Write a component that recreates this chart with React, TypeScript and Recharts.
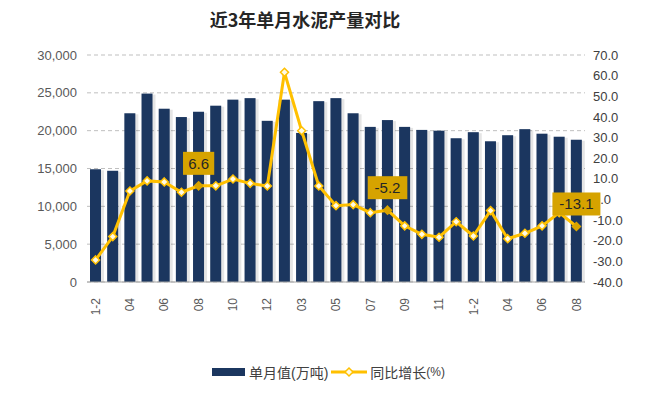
import React from "react";
import {
  ComposedChart,
  Bar,
  Line,
  XAxis,
  YAxis,
  CartesianGrid,
} from "recharts";

// months, three years back to back
const months = [
  "1-2", "03", "04", "05", "06", "07", "08", "09", "10", "11", "12",
  "1-2", "03", "04", "05", "06", "07", "08", "09", "10", "11", "12",
  "1-2", "03", "04", "05", "06", "07", "08",
];

// 单月值 (万吨)
const output = [
  14900, 14700, 22300, 24900, 22900, 21800, 22500, 23300, 24100, 24300, 21300,
  24100, 19700, 23900, 24300, 22300, 20500, 21400, 20500, 20100, 20000, 19000,
  19800, 18600, 19400, 20200, 19600, 19200, 18800,
];

// 同比增长 (%)
const growth = [
  -29.3, -18.0, 4.1, 9.0, 8.5, 3.5, 6.6, 6.6, 9.9, 7.8, 6.5,
  61.6, 33.3, 6.5, -3.0, -2.5, -6.4, -5.2, -12.8, -16.9, -18.3, -10.8,
  -17.7, -5.4, -19.0, -16.4, -12.8, -6.4, -13.1,
];

const labeledPoints = [6, 17, 28];

const leftTicks = [0, 5000, 10000, 15000, 20000, 25000, 30000];
const rightTicks = [-40, -30, -20, -10, 0, 10, 20, 30, 40, 50, 60, 70];

const data = months.map((m, i) => ({
  month: m,
  output: output[i],
  growth: growth[i],
}));

const NAVY = "#1B365F";
const GOLD = "#FFC000";
const FONT = "'Liberation Sans', 'Noto Sans CJK SC', sans-serif";

const ShadowBar = (props: any) => {
  const { x, y, width, height } = props;
  if (!height || height <= 0) return null;
  return (
    <g>
      <rect x={x + 2} y={y + 1} width={width + 1} height={height - 1} fill="#000" opacity={0.1} />
      <rect x={x} y={y} width={width} height={height} fill={NAVY} />
    </g>
  );
};

const renderDot = (props: any) => {
  const { cx, cy, index } = props;
  const hit = labeledPoints.includes(index);
  const r = 4;
  const pts = `${cx},${cy - r} ${cx + r},${cy} ${cx},${cy + r} ${cx - r},${cy}`;
  return (
    <polygon
      key={`d-${index}`}
      points={pts}
      fill={hit ? "#D9A400" : "#FFFBE6"}
      stroke={hit ? "#D9A400" : GOLD}
      strokeWidth={1.5}
    />
  );
};

const renderLabel = (props: any) => {
  const { x, y, value, index } = props;
  if (!labeledPoints.includes(index)) return null;
  const text = Number(value).toFixed(1);
  const w = text.length * 8.4 + 6;
  const h = 23;
  return (
    <g key={`l-${index}`}>
      <rect x={x - w / 2} y={y - 11 - h} width={w} height={h} fill="#D6A300" />
      <text
        x={x}
        y={y - 11 - h / 2}
        dy="0.36em"
        textAnchor="middle"
        fontSize={15}
        fontFamily={FONT}
        fill="#262626"
      >
        {text}
      </text>
    </g>
  );
};

const MonthTick = (props: any) => {
  const { x, y, payload } = props;
  const ty = y + 8;
  return (
    <text
      x={x}
      y={ty}
      dy="0.35em"
      textAnchor="end"
      transform={`rotate(-90, ${x}, ${ty})`}
      fontSize={12}
      fontFamily={FONT}
      fill="#595959"
    >
      {payload.value}
    </text>
  );
};

export default function App() {
  return (
    <div style={{ position: "absolute", left: 0, top: 0, width: 661, height: 393, background: "#fff" }}>
      <div
        style={{
          position: "absolute",
          left: 0,
          top: 6,
          width: 610,
          textAlign: "center",
          fontFamily: "'Noto Sans CJK SC', sans-serif",
          fontWeight: 700,
          fontSize: 18,
          color: "#262626",
        }}
      >
        近3年单月水泥产量对比
      </div>

      <ComposedChart
        width={661}
        height={393}
        data={data}
        margin={{ top: 55, right: 0, bottom: 0, left: 0 }}
        barCategoryGap={6}
      >
        <CartesianGrid
          yAxisId="left"
          vertical={false}
          stroke="#BFBFBF"
          strokeDasharray="4 3"
        />
        <XAxis
          dataKey="month"
          interval={1}
          height={111}
          tick={<MonthTick />}
          tickLine={false}
          axisLine={{ stroke: "#A6A6A6", strokeWidth: 1 }}
        />
        <YAxis
          yAxisId="left"
          width={87}
          domain={[0, 30000]}
          ticks={leftTicks}
          interval={0}
          tickFormatter={(v: number) => v.toLocaleString("en-US")}
          tick={{ fill: "#595959", fontSize: 13, fontFamily: FONT }}
          tickLine={false}
          axisLine={false}
          tickMargin={4}
        />
        <YAxis
          yAxisId="right"
          orientation="right"
          width={76}
          domain={[-40, 70]}
          ticks={rightTicks}
          interval={0}
          tickFormatter={(v: number) => v.toFixed(1)}
          tick={{ fill: "#404040", fontSize: 13, fontFamily: FONT }}
          tickLine={false}
          axisLine={false}
        />
        <Bar
          yAxisId="left"
          dataKey="output"
          barSize={11}
          fill={NAVY}
          shape={<ShadowBar />}
          isAnimationActive={false}
        />
        <Line
          yAxisId="right"
          dataKey="growth"
          type="linear"
          stroke={GOLD}
          strokeWidth={3}
          dot={renderDot}
          activeDot={false}
          label={renderLabel}
          isAnimationActive={false}
        />
      </ComposedChart>

      <div
        style={{
          position: "absolute",
          left: 212,
          top: 362,
          display: "flex",
          alignItems: "center",
          fontFamily: FONT,
          fontSize: 14,
          color: "#404040",
          whiteSpace: "nowrap",
        }}
      >
        <span style={{ display: "inline-block", width: 33, height: 8, background: NAVY, marginRight: 4 }} />
        <span>单月值(万吨)</span>
        <svg width={36} height={12} style={{ marginLeft: 3, marginRight: 3 }}>
          <line x1={0} y1={6} x2={36} y2={6} stroke={GOLD} strokeWidth={3} />
          <polygon points="18,2 22,6 18,10 14,6" fill="#FFFBE6" stroke={GOLD} strokeWidth={1.5} />
        </svg>
        <span>同比增长</span>
        <span style={{ fontSize: 12 }}>(%)</span>
      </div>
    </div>
  );
}
